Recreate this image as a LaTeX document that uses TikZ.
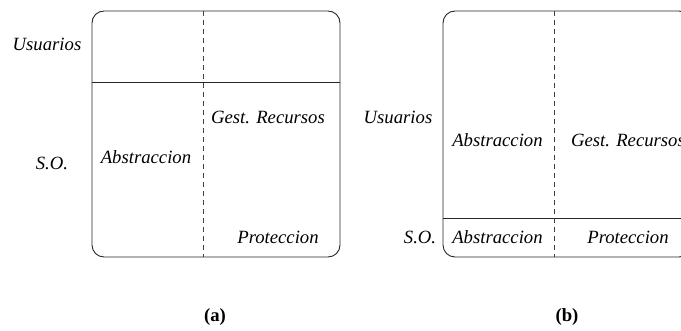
\documentclass[tikz,border=0pt]{standalone}
\usepackage{fontspec}
\setmainfont{Liberation Serif}
\begin{document}
\begin{tikzpicture}[x=1pt,y=-1pt,
  frame/.style={draw=black!85, line width=0.9pt, rounded corners=12pt},
  sep/.style={draw=black!85, line width=0.9pt},
  divider/.style={draw=black!75, line width=0.8pt, dash pattern=on 5pt off 4pt},
  lbl/.style={font=\fontsize{18.7}{22}\selectfont\itshape, inner sep=0pt},
  figcaption/.style={font=\fontsize{18.7}{22}\selectfont\bfseries, inner sep=0pt}]
\useasboundingbox (0,0) rectangle (681,331);
\clip (0,0) rectangle (681,331);

% --- (a): users above, operating system below
\draw[frame] (92,11) rectangle (340,257);
\draw[sep] (92,82) -- (340,82);
\draw[divider] (203,11) -- (203,257);
\node[lbl] (ua) at (47,44) {Usuarios};
\node[lbl] (soa) at (52,163) {S.O.};
\node[lbl] (absa) at (146,157) {Abstraccion};
\node[lbl] (gesa) at (268,117) {Gest. Recursos};
\node[lbl] (proa) at (278,237) {Proteccion};
\node[figcaption] (capa) at (215,317) {(a)};

% --- (b): users occupy most of the box, thin O.S. layer at the bottom
\draw[frame] (443,11) rectangle (691,257);
\draw[sep] (443,218) -- (691,218);
\draw[divider] (554,11) -- (554,257);
\node[lbl] (ub) at (398,117) {Usuarios};
\node[lbl] (sob) at (420,237) {S.O.};
\node[lbl] (absb1) at (497.5,140) {Abstraccion};
\node[lbl] (gesb) at (628,140) {Gest. Recursos};
\node[lbl] (absb2) at (497.5,237) {Abstraccion};
\node[lbl] (prob) at (628,237) {Proteccion};
\node[figcaption] (capb) at (567,317) {(b)};
\end{tikzpicture}
\end{document}
